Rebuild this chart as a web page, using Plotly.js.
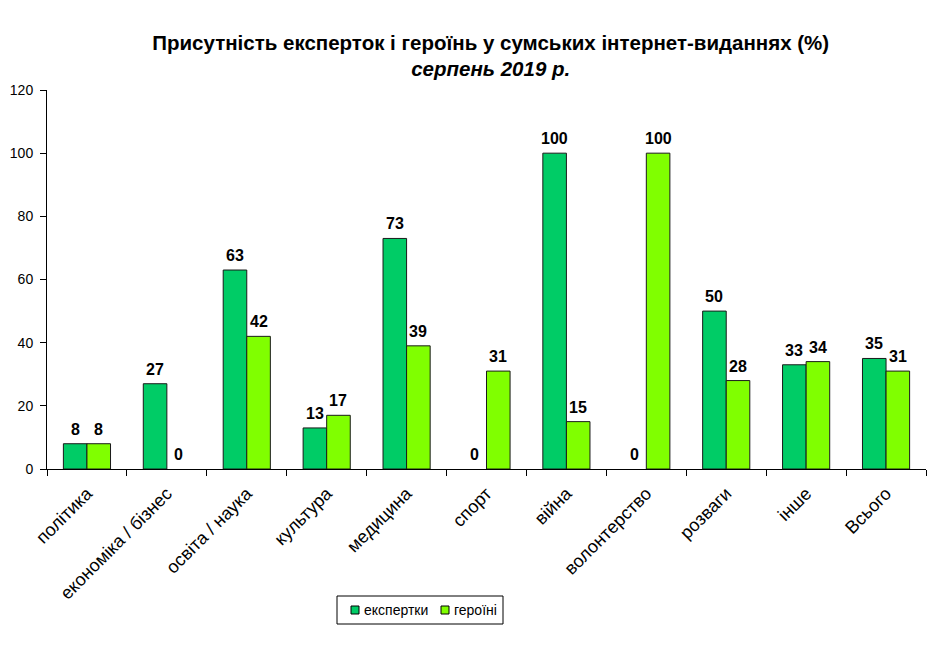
<!DOCTYPE html>
<html>
<head>
<meta charset="utf-8">
<script src="https://cdn.plot.ly/plotly-3.0.1.min.js"></script>
<style>
  html, body { margin: 0; padding: 0; background: #fff; }
  #chart { width: 951px; height: 663px; }
</style>
</head>
<body>
<div id="chart"></div>
<script>
// Categories of publications
const categories = [
  'політика', 'економіка / бізнес', 'освіта / наука', 'культура', 'медицина',
  'спорт', 'війна', 'волонтерство', 'розваги', 'інше', 'Всього'
];
// Share of women experts (%)
const experts = [8, 27, 63, 13, 73, 0, 100, 0, 50, 33, 35];
// Share of women heroes (%)
const heroines = [8, 0, 42, 17, 39, 31, 15, 100, 28, 34, 31];
const seriesNames = ['експертки', 'героїні'];
const seriesColors = ['#00CC66', '#80FF00'];
const yTicks = [0, 20, 40, 60, 80, 100, 120];

const FONT = 'Arial, Liberation Sans, sans-serif';
const series = [experts, heroines];

// Plot area in pixels (used for the hand-built legend and label offsets)
const W = 951, H = 663;
const M = { l: 47, r: 25, t: 90, b: 194 };
const plotW = W - M.l - M.r, plotH = H - M.t - M.b;
const bargap = 0.41;
const barPx = plotW / categories.length * (1 - bargap) / 2;

const traces = series.map((vals, i) => ({
  type: 'bar', name: seriesNames[i], x: categories, y: vals,
  marker: {
    color: seriesColors[i],
    line: { color: '#1a1a1a', width: vals.map(v => v === 0 ? 0 : 1) }
  },
  hoverinfo: 'none'
}));

// Value labels above every bar
const annotations = [];
series.forEach((vals, i) => {
  vals.forEach((v, j) => {
    annotations.push({
      x: categories[j], y: v, xref: 'x', yref: 'y',
      text: '<b>' + v + '</b>', showarrow: false,
      xshift: (i === 0 ? -1 : 1) * barPx / 2,
      yanchor: 'bottom', yshift: v === 0 ? 4 : 4,
      font: { family: FONT, size: 16, color: '#000' }
    });
  });
});

// Legend box with small square swatches
const px2x = px => (px - M.l) / plotW;
const px2y = py => (H - M.b - py) / plotH;
const shapes = [
  { type: 'rect', xref: 'paper', yref: 'paper',
    x0: px2x(337), x1: px2x(503), y0: px2y(624), y1: px2y(596),
    line: { color: '#000', width: 1 }, fillcolor: '#fff' }
];
const swatchX = [351, 441];
const textX = [362, 452];
seriesNames.forEach((name, i) => {
  shapes.push({ type: 'rect', xref: 'paper', yref: 'paper',
    x0: px2x(swatchX[i]), x1: px2x(swatchX[i] + 8), y0: px2y(614), y1: px2y(606),
    line: { color: '#000', width: 1 }, fillcolor: seriesColors[i] });
  annotations.push({ xref: 'paper', yref: 'paper', x: px2x(textX[i]), y: px2y(610),
    xanchor: 'left', yanchor: 'middle', showarrow: false, text: name,
    font: { family: FONT, size: 14, color: '#000' } });
});

const layout = {
  width: W, height: H,
  margin: M,
  paper_bgcolor: '#fff', plot_bgcolor: '#fff',
  font: { family: FONT, color: '#000' },
  title: {
    text: '<b>Присутність експерток і героїнь у сумських інтернет-виданнях (%)</b><br><b><i>серпень 2019 р.</i></b>',
    font: { size: 20.5, family: FONT, color: '#000' },
    x: 0.516, xanchor: 'center', y: 0.925, yanchor: 'top'
  },
  barmode: 'group',
  bargap: bargap, bargroupgap: 0,
  showlegend: false,
  xaxis: {
    type: 'category', tickangle: -45, tickfont: { size: 18 },
    ticklabelstandoff: 6,
    showline: true, linecolor: '#000', linewidth: 1,
    ticks: 'outside', ticklen: 6, tickcolor: '#000', tickson: 'boundaries',
    showgrid: false, zeroline: false, fixedrange: true
  },
  yaxis: {
    range: [0, 120], tickvals: yTicks, ticktext: yTicks.map(String),
    tickfont: { size: 14 }, ticklabelstandoff: 4,
    showline: true, linecolor: '#000', linewidth: 1,
    ticks: 'outside', ticklen: 6, tickcolor: '#000',
    showgrid: false, zeroline: false, fixedrange: true
  },
  annotations: annotations,
  shapes: shapes
};

Plotly.newPlot('chart', traces, layout, { displayModeBar: false, staticPlot: true });
</script>
</body>
</html>
